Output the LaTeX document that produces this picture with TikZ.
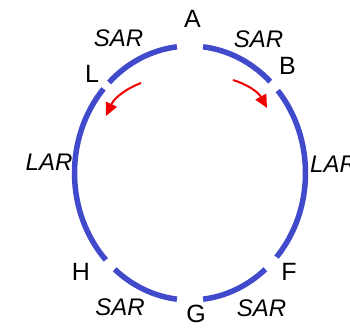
\documentclass[tikz,border=0pt]{standalone}
\usepackage{fontspec}
\setmainfont{Liberation Sans}
\usetikzlibrary{arrows.meta}
\definecolor{ringblue}{RGB}{66,74,204}
\definecolor{arrred}{RGB}{240,0,0}
\tikzset{
  ring/.style={draw=ringblue, line width=5.5pt},
  lbl/.style={inner sep=0pt, font=\fontsize{25}{28}\selectfont},
  arlbl/.style={inner sep=0pt, font=\fontsize{24}{28}\selectfont\itshape},
  flow/.style={draw=arrred, line width=2pt, -{Triangle[length=13pt,width=12pt]}}
}
\begin{document}
\begin{tikzpicture}[x=1pt,y=1pt]
\useasboundingbox (0,0) rectangle (350,327);
\coordinate (c) at (190,154);
% ring segments
\foreach \a/\b in {46/83.5, -41.5/40.5, -83.5/-49.3, -130.7/-96.5, 138.5/223.2, 96.5/134.5}{
  \draw[ring] ([shift={(\a:115.5 and 127)}]c) arc[start angle=\a, end angle=\b, x radius=115.5, y radius=127];
}
% labels
\node[lbl] (A) at (192.5,308) {A};
\node[lbl] (B) at (287.5,261.5) {B};
\node[lbl] (L) at (92,253) {L};
\node[lbl] (H) at (81,55) {H};
\node[lbl] (F) at (289,55) {F};
\node[lbl] (G) at (196,13) {G};
\node[arlbl] (sar1) at (118.5,288.5) {SAR};
\node[arlbl] (sar2) at (258.5,287.5) {SAR};
\node[arlbl] (lar1) at (49,165) {LAR};
\node[arlbl, anchor=west] (lar2) at (310,163) {LAR};
\node[arlbl] (sar3) at (120,20) {SAR};
\node[arlbl] (sar4) at (261.5,19) {SAR};
% arrows
\coordinate (l1) at (141,244);
\coordinate (l2) at (106,211);
\coordinate (r1) at (233,247);
\coordinate (r2) at (267,219);
\draw[flow] (l1) to[bend right=22] (l2);
\draw[flow] (r1) to[bend left=22] (r2);
\end{tikzpicture}
\end{document}
